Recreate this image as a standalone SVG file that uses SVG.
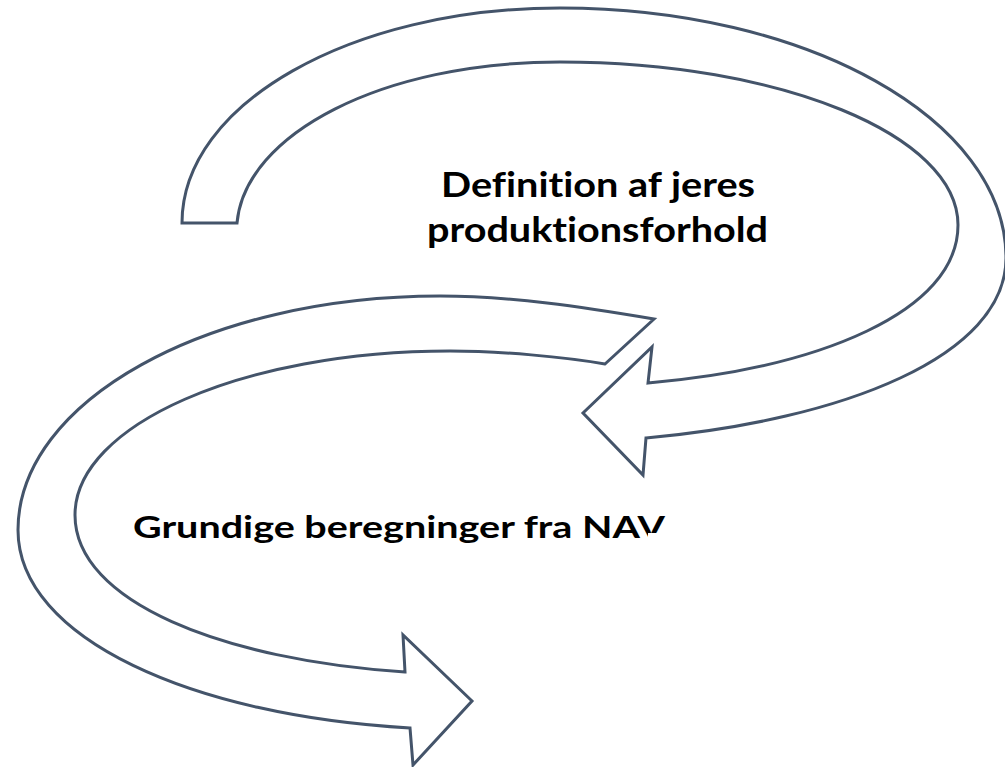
<svg xmlns="http://www.w3.org/2000/svg" width="1005" height="767" viewBox="0 0 1005 767">
  <style>
    .arrow { fill: #FFFFFF; stroke: #44546A; stroke-width: 3; stroke-linejoin: miter; }
    .lbl { font-family: Lato, "Open Sans", "Liberation Sans", sans-serif; font-weight: bold; fill: #000000; font-variant-ligatures: none; }
  </style>
  <rect x="0" y="0" width="1005" height="767" fill="#FFFFFF"/>
  <g id="connectors">
    <path id="arrow-top" class="arrow" d="M182,223 C182,104 351,8 560,8 C806,8 1006,119 1006,258 C1006,356 844,420 646,438 L643,475 L583,413 L652,347 L648,383 C819,368 958,312 958,225 C958,135 780,62 560,62 C382,62 245,134 237,223 Z"/>
    <path id="arrow-bottom" class="arrow" d="M654,319 C583,307 511,296 440,296 C207,296 18,401 18,530 C18,639 194,716 410,728 L413,765 L472,701 L403,635 L405,672 C223,660 75,602 75,515 C75,425 243,351 450,351 C500,351 565,357 605,364 Z"/>
  </g>
  <g id="node-definition">
    <text class="lbl" font-size="35" x="598" y="197" text-anchor="middle" textLength="314" lengthAdjust="spacingAndGlyphs">Definition af jeres</text>
    <text class="lbl" font-size="35" x="597.5" y="242" text-anchor="middle" textLength="341" lengthAdjust="spacingAndGlyphs">produktionsforhold</text>
  </g>
  <g id="node-beregninger">
    <text class="lbl" font-size="30" x="133" y="538" textLength="532" lengthAdjust="spacingAndGlyphs">Grundige beregninger fra NAV</text>
  </g>
  <rect id="cover" x="648" y="533" width="64" height="230" fill="#FFFFFF"/>
</svg>
